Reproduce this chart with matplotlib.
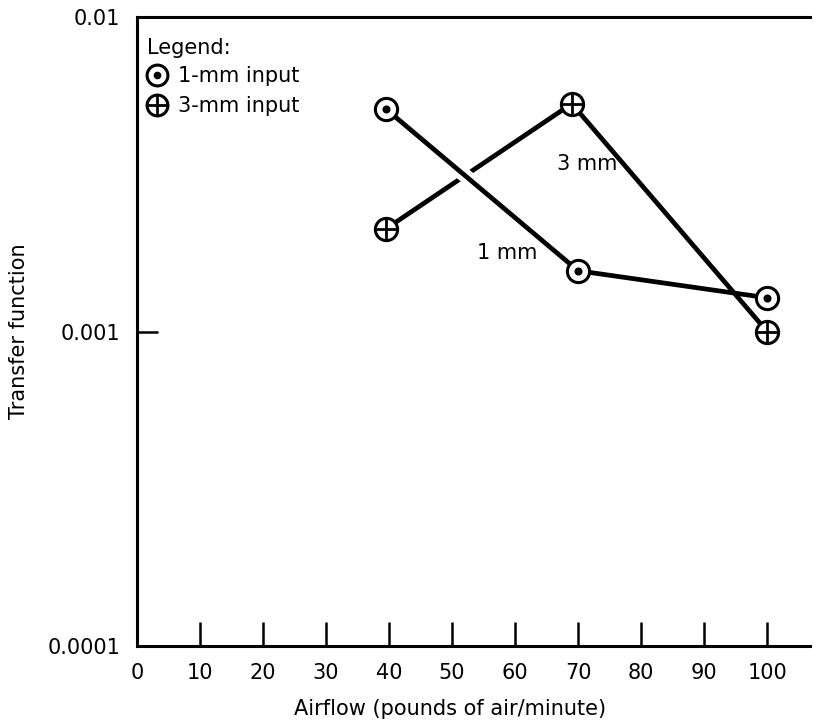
"""
Transfer function vs airflow for 1-mm and 3-mm inputs (log scale).
"""
import matplotlib
matplotlib.use("Agg")
from matplotlib import pyplot as plt
from matplotlib.lines import Line2D
from matplotlib import patheffects as pe

# values
airflow_1mm = [39.5, 70, 100]
transfer_1mm = [0.0051, 0.00156, 0.00128]
airflow_3mm = [39.5, 69, 100]
transfer_3mm = [0.00212, 0.0053, 0.00100]

x_ticks = [0, 10, 20, 30, 40, 50, 60, 70, 80, 90, 100]
y_ticks = [0.0001, 0.001, 0.01]
y_tick_labels = ["0.0001", "0.001", "0.01"]

plt.rcParams['font.family'] = ['DejaVu Sans']
FS = 15
LW = 3.4
MS = 16


def dot_circle(x, y, ms, ax):
    ax.plot(x, y, ls='none', marker='o', ms=ms, mfc='white', mec='black',
            mew=2.2, zorder=5)
    ax.plot(x, y, ls='none', marker='o', ms=ms * 0.3, color='black', zorder=6)


def cross_circle(x, y, ms, ax):
    ax.plot(x, y, ls='none', marker='o', ms=ms, mfc='white', mec='black',
            mew=2.2, zorder=5)
    ax.plot(x, y, ls='none', marker='+', ms=ms, mew=2.0, color='black', zorder=6)


fig = plt.figure(figsize=(8.21, 7.26), dpi=100)
ax = fig.add_axes([137 / 821, 1 - 646 / 726, (810 - 137) / 821, (646 - 17) / 726])

# lines: first 1-mm segment gets a white halo where it crosses the 3-mm line
ax.plot(airflow_3mm, transfer_3mm, color='black', lw=LW, zorder=2,
        solid_capstyle='butt')
ax.plot(airflow_1mm[:2], transfer_1mm[:2], color='black', lw=LW, zorder=3,
        solid_capstyle='butt',
        path_effects=[pe.Stroke(linewidth=LW + 7, foreground='white'), pe.Normal()])
ax.plot(airflow_1mm[1:], transfer_1mm[1:], color='black', lw=LW, zorder=3,
        solid_capstyle='butt')

dot_circle(airflow_1mm, transfer_1mm, MS, ax)
cross_circle(airflow_3mm, transfer_3mm, MS, ax)

ax.text(71.4, 0.0034, "3 mm", fontsize=FS, ha='center', va='center')
ax.text(58.7, 0.00178, "1 mm", fontsize=FS, ha='center', va='center')

ax.set_yscale('log')
ax.set_ylim(0.0001, 0.01)
ax.set_xlim(0, 106.8)
ax.set_yticks(y_ticks)
ax.set_yticklabels(y_tick_labels)
ax.minorticks_off()
ax.set_xticks(x_ticks)
ax.set_xticklabels([str(v) for v in x_ticks])

ax.tick_params(axis='x', direction='in', length=17, width=1.8, pad=12,
               labelsize=FS)
ax.tick_params(axis='y', direction='in', length=15, width=1.8, pad=12,
               labelsize=FS)

for side in ['left', 'bottom', 'top']:
    ax.spines[side].set_linewidth(2.2)
ax.spines['right'].set_visible(False)

ax.set_xlabel("Airflow (pounds of air/minute)", fontsize=FS)
ax.xaxis.set_label_coords(0.465, -0.085)
ax.set_ylabel("Transfer function", fontsize=FS)
ax.yaxis.set_label_coords(-0.16, 0.5)

# legend
h1 = (Line2D([], [], ls='none', marker='o', ms=15, mfc='white', mec='black', mew=2.2),
      Line2D([], [], ls='none', marker='o', ms=4.5, color='black'))
h3 = (Line2D([], [], ls='none', marker='o', ms=15, mfc='white', mec='black', mew=2.2),
      Line2D([], [], ls='none', marker='+', ms=15, mew=2.0, color='black'))
leg = ax.legend([h1, h3], ["1-mm input", "3-mm input"], title="Legend:",
                loc='upper left', bbox_to_anchor=(-0.013, 0.997),
                frameon=False, fontsize=FS,
                title_fontsize=FS, alignment='left', handlelength=1.0,
                handletextpad=0.5, labelspacing=0.5, borderaxespad=0.5,
                borderpad=0.4)
leg._legend_box.sep = 6

fig.savefig("out.png", dpi=100)
